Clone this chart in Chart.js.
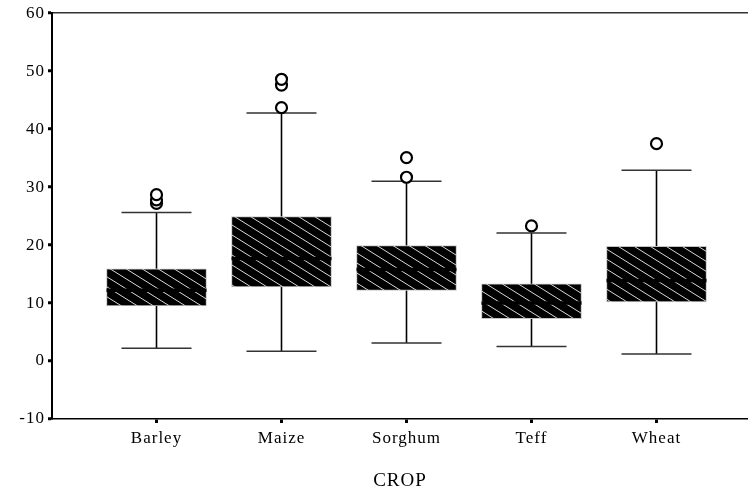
<!DOCTYPE html>
<html>
<head>
<meta charset="utf-8">
<script src="https://cdn.jsdelivr.net/npm/chart.js@4.4.0/dist/chart.umd.min.js"></script>
<style>
  html, body { margin: 0; padding: 0; background: #fff; }
</style>
</head>
<body>
<canvas id="chart" width="748" height="493"></canvas>
<script>
// crop yields
const categories = ['Barley', 'Maize', 'Sorghum', 'Teff', 'Wheat'];
const whiskerLow = [2.2, 1.7, 3.1, 2.5, 1.2];
const q1 = [9.5, 12.8, 12.2, 7.3, 10.2];
const median = [12.2, 17.7, 15.8, 10.0, 13.9];
const q3 = [15.9, 24.9, 19.9, 13.3, 19.8];
const whiskerHigh = [25.6, 42.8, 31.0, 22.1, 32.9];
const outliers = [[27.2, 27.8, 28.7], [43.7, 47.6, 48.6], [31.7, 35.1], [23.3], [37.5]];
const yTicks = [-10, 0, 10, 20, 30, 40, 50, 60];

// half widths in x units (one category = 1 unit)
const boxHalf = 0.4;
const capHalf = 0.28;
const serif = 'Liberation Serif, Times New Roman, serif';

function hatchPattern() {
    const c = document.createElement('canvas');
    c.width = 16;
    c.height = 10;
    const g = c.getContext('2d');
    g.fillStyle = '#000';
    g.fillRect(0, 0, 16, 10);
    g.strokeStyle = '#d8d8d8';
    g.lineWidth = 1;
    g.beginPath();
    for (let n = -1; n <= 1; n++) {
        g.moveTo(-16, -10 + 10 * n);
        g.lineTo(32, 20 + 10 * n);
    }
    g.stroke();
    return g.createPattern(c, 'repeat');
}

const boxData = categories.map((c, i) => ({ x: i + 1, y: [q1[i], q3[i]] }));

const whiskerData = [];
const capData = [];
const medianData = [];
const outlierData = [];
categories.forEach((c, i) => {
    const x = i + 1;
    whiskerData.push({ x, y: whiskerLow[i] }, { x, y: q1[i] }, { x, y: null },
                     { x, y: q3[i] }, { x, y: whiskerHigh[i] }, { x, y: null });
    capData.push({ x: x - capHalf, y: whiskerLow[i] }, { x: x + capHalf, y: whiskerLow[i] }, { x, y: null },
                 { x: x - capHalf, y: whiskerHigh[i] }, { x: x + capHalf, y: whiskerHigh[i] }, { x, y: null });
    medianData.push({ x: x - boxHalf, y: median[i] }, { x: x + boxHalf, y: median[i] }, { x, y: null });
    outliers[i].forEach(v => outlierData.push({ x, y: v }));
});

// the old SPSS text is set a bit wide
const wideText = {
    id: 'wideText',
    beforeLayout: chart => { chart.ctx.letterSpacing = '1px'; },
    beforeDraw: chart => { chart.ctx.letterSpacing = '1px'; }
};

new Chart(document.getElementById('chart'), {
    type: 'scatter',
    plugins: [wideText],
    data: {
        datasets: [
            {
                type: 'scatter',
                data: outlierData,
                pointRadius: 5.5,
                pointBorderWidth: 2.2,
                pointBorderColor: '#000',
                pointBackgroundColor: '#fff'
            },
            {
                type: 'line',
                data: medianData,
                borderColor: '#000',
                borderWidth: 3.5,
                pointRadius: 0,
                spanGaps: false
            },
            {
                type: 'bar',
                data: boxData,
                backgroundColor: hatchPattern(),
                borderColor: '#c4c4c4',
                borderWidth: 1,
                borderSkipped: false,
                barThickness: 100
            },
            {
                type: 'line',
                data: capData,
                borderColor: '#333',
                borderWidth: 1.5,
                pointRadius: 0,
                spanGaps: false
            },
            {
                type: 'line',
                data: whiskerData,
                borderColor: '#000',
                borderWidth: 1.6,
                pointRadius: 0,
                spanGaps: false
            }
        ]
    },
    options: {
        responsive: false,
        devicePixelRatio: 1,
        animation: false,
        layout: { autoPadding: false, padding: { top: 12, right: 0, left: 0, bottom: 0 } },
        plugins: { legend: { display: false }, tooltip: { enabled: false } },
        scales: {
            x: {
                type: 'linear',
                min: 0.164,
                max: 5.732,
                offset: false,
                afterBuildTicks: s => { s.ticks = categories.map((c, i) => ({ value: i + 1 })); },
                afterFit: s => {
                    s.height = 74;
                    s.paddingLeft = 0;
                    s.paddingRight = 0;
                },
                ticks: {
                    autoSkip: false,
                    maxRotation: 0,
                    padding: 5,
                    color: '#000',
                    font: { family: serif, size: 17 },
                    callback: v => categories[Math.round(v) - 1]
                },
                grid: { offset: false, drawOnChartArea: false, tickLength: 4, tickWidth: 3, tickColor: '#000' },
                border: { color: '#000', width: 1.5 },
                title: {
                    display: true,
                    text: 'CROP',
                    color: '#000',
                    font: { family: serif, size: 19 },
                    padding: { top: 4, bottom: 1 }
                }
            },
            y: {
                min: -10,
                max: 60,
                afterBuildTicks: s => { s.ticks = yTicks.map(v => ({ value: v })); },
                afterFit: s => { s.width = 52; },
                ticks: {
                    padding: 3,
                    color: '#000',
                    font: { family: serif, size: 17 }
                },
                grid: {
                    offset: false,
                    color: c => (c.tick && c.tick.value === 60 ? '#333' : 'rgba(0,0,0,0)'),
                    lineWidth: 1.5,
                    tickColor: '#000',
                    tickLength: 4,
                    tickWidth: 3
                },
                border: { color: '#000', width: 2 }
            }
        }
    }
});
</script>
</body>
</html>
